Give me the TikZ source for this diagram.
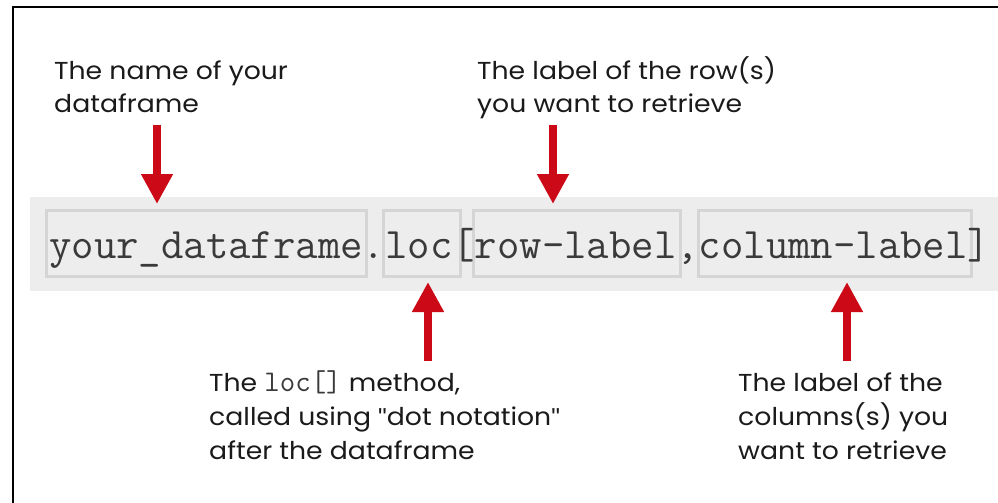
\documentclass[tikz,border=0pt]{standalone}
\usepackage{fontspec}
\setmainfont{Poppins}[FakeStretch=1.09]
\newfontfamily\quotefont{Liberation Sans}
\usetikzlibrary{arrows.meta}
\definecolor{band}{HTML}{EDEDED}
\definecolor{boxline}{HTML}{D5D5D5}
\definecolor{arrowred}{HTML}{CC0A17}
\definecolor{codetext}{HTML}{3A3A3A}
\definecolor{labeltext}{HTML}{1A1A1A}
\tikzset{
  codebox/.style={draw=boxline, line width=3pt},
  redarrow/.style={draw=arrowred, line width=8.5pt, -{Triangle[width=30pt,length=30pt]}},
  lbl/.style={anchor=base west, inner sep=0pt, text=labeltext, font=\fontsize{24.5}{30}\selectfont},
  code/.style={anchor=base west, inner sep=0pt, text=codetext, font=\ttfamily\fontsize{43.5}{45}\selectfont},
}
\begin{document}
\begin{tikzpicture}[x=1pt,y=-1pt]
\useasboundingbox (0,0) rectangle (998,503);
\fill[white] (0,0) rectangle (998,503);
% frame
\draw[black, line width=2pt] (13,503) -- (13,7) -- (998,7);
% band
\fill[band] (30,197) rectangle (998,291);
% boxes
\draw[codebox] (46.5,210.8) rectangle (366.2,276.8);
\draw[codebox] (383.2,210.8) rectangle (460.2,276.8);
\draw[codebox] (473.2,210.8) rectangle (680.2,276.8);
\draw[codebox] (698.2,210.8) rectangle (971.8,276.8);
% code
\node[code] (codeline) at (49,258) {your\_dataframe.loc[row-label,column-label]};
% labels top
\node[lbl] (t1a) at (54,80) {The name of your};
\node[lbl] (t1b) at (54,112.5) {dataframe};
\node[lbl] (t2a) at (477,80) {The label of the row(s)};
\node[lbl] (t2b) at (477,112.5) {you want to retrieve};
% labels bottom
\node[lbl] (t3a) at (209,391.5) {The {\ttfamily\fontsize{30}{30}\selectfont\color{codetext}loc[]} method,};
\node[lbl] (t3b) at (209,425.5) {called using {\quotefont"}dot notation{\quotefont"}};
\node[lbl] (t3c) at (209,459) {after the dataframe};
\node[lbl] (t4a) at (738,391.5) {The label of the};
\node[lbl] (t4b) at (738,425.5) {columns(s) you};
\node[lbl] (t4c) at (738,459) {want to retrieve};
% arrows
\coordinate (a1s) at (157,125); \coordinate (a1e) at (157,204);
\coordinate (a2s) at (553,125); \coordinate (a2e) at (553,204);
\coordinate (a3s) at (428,361); \coordinate (a3e) at (428,282);
\coordinate (a4s) at (847,361); \coordinate (a4e) at (847,282);
\draw[redarrow] (a1s) -- (a1e);
\draw[redarrow] (a2s) -- (a2e);
\draw[redarrow] (a3s) -- (a3e);
\draw[redarrow] (a4s) -- (a4e);
\end{tikzpicture}
\end{document}
